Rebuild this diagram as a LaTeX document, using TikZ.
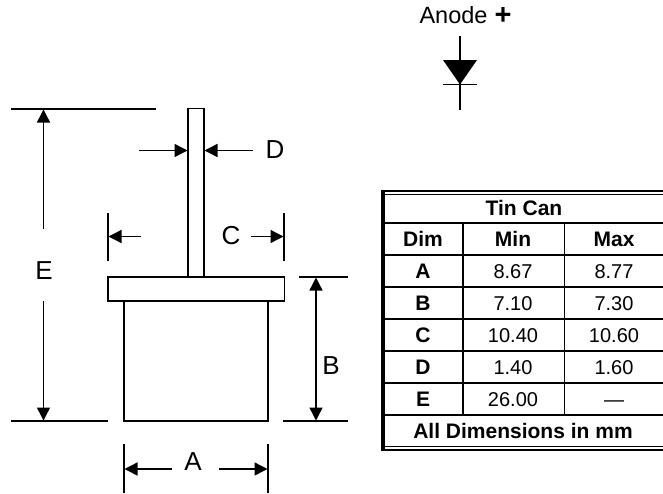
\documentclass[tikz,border=0pt]{standalone}
\usepackage{fontspec}
\setmainfont{Liberation Sans}
\usetikzlibrary{arrows.meta}

\begin{document}
\begin{tikzpicture}[x=1pt,y=-1pt,inner sep=0pt,every node/.style={font=\fontsize{20}{24}\selectfont}]
  % Styles
  \tikzset{part/.style={line width=1.4pt,fill=white},
           ext/.style={line width=1.4pt},
           dim/.style={line width=1.4pt,-{Triangle[length=13pt,width=13pt]}},
           dimboth/.style={line width=1.4pt,{Triangle[length=13pt,width=13pt]}-{Triangle[length=13pt,width=13pt]}},
           bigletter/.style={font=\fontsize{26}{30}\selectfont},
           cell/.style={anchor=base},
           head/.style={anchor=base,font=\fontsize{21}{24}\selectfont\bfseries},
           rule/.style={line width=1.5pt},
           outer/.style={line width=1.5pt}}
  \useasboundingbox (0,0) rectangle (663,493);

  % Outline of the can
  \draw[part] (124,301) rectangle (268,421);
  \draw[part] (108,277) rectangle (284.5,301);
  \draw[part] (188,108.5) rectangle (204,277);

  % Extension lines
  \draw[ext] (11,109) -- (156,109);
  \draw[ext] (11,421) -- (108,421);
  \draw[ext] (299,277) -- (348,277);
  \draw[ext] (283,421) -- (348,421);
  \draw[ext] (108,213) -- (108,261);
  \draw[ext] (284,213) -- (284,261);
  \draw[ext] (124,444) -- (124,493);
  \draw[ext] (268,444) -- (268,493);

  % Dimension E
  \node[bigletter] (lblE) at (44,271) {E};
  \draw[dim] (43.5,229) -- (43.5,109.5);
  \draw[dim] (43.5,301) -- (43.5,420.5);

  % Dimension D
  \node[bigletter] (lblD) at (275,150) {D};
  \draw[dim] (139,150.5) -- (187.5,150.5);
  \draw[dim] (253,150.5) -- (204.5,150.5);

  % Dimension C
  \node[bigletter] (lblC) at (231,236) {C};
  \draw[dim] (141,236.5) -- (108.5,236.5);
  \draw[dim] (251,236.5) -- (283.5,236.5);

  % Dimension B
  \node[bigletter] (lblB) at (331,366) {B};
  \draw[dimboth] (316,277.5) -- (316,420.5);

  % Dimension A
  \node[bigletter] (lblA) at (193,462) {A};
  \draw[dim] (172,469) -- (124.5,469);
  \draw[dim] (219,469) -- (267.5,469);

  % Diode symbol
  \node[font=\fontsize{23.5}{28}\selectfont] (anode) at (453.5,15) {Anode};
  \node[font=\fontsize{29}{32}\selectfont\bfseries] (plus) at (503,16) {+};
  \draw[ext] (460,36) -- (460,110);
  \draw[ext] (443,84.5) -- (477,84.5);
  \fill (443,60) -- (477,60) -- (460,84.5) -- cycle;

  % Table frame
  \draw[line width=4pt] (383,191) -- (383,450.7);
  \draw[outer] (381,191) -- (663,191);
  \draw[outer] (381,194.5) -- (663,194.5);
  \draw[outer] (381,446.5) -- (663,446.5);
  \draw[outer] (381,450) -- (663,450);

  % Table rules
  \draw[rule] (383,223) -- (663,223);
  \draw[rule] (383,255) -- (663,255);
  \draw[rule] (383,287) -- (663,287);
  \draw[rule] (383,319) -- (663,319);
  \draw[rule] (383,351) -- (663,351);
  \draw[rule] (383,383) -- (663,383);
  \draw[rule] (383,415) -- (663,415);
  \draw[rule] (463,223) -- (463,415);
  \draw[rule] (564.5,223) -- (564.5,415);

  % Table text
  \node[head] (title) at (524,215) {Tin Can};
  \node[head] (hdim) at (423,246.5) {Dim};
  \node[head] (hmin) at (513,246.5) {Min};
  \node[head] (hmax) at (614,246.5) {Max};
  \node[head] (rowA) at (423,278) {A};
  \node[cell] (minA) at (513,278) {8.67};
  \node[cell] (maxA) at (614,278) {8.77};
  \node[head] (rowB) at (423,310) {B};
  \node[cell] (minB) at (513,310) {7.10};
  \node[cell] (maxB) at (614,310) {7.30};
  \node[head] (rowC) at (423,342) {C};
  \node[cell] (minC) at (513,342) {10.40};
  \node[cell] (maxC) at (614,342) {10.60};
  \node[head] (rowD) at (423,374) {D};
  \node[cell] (minD) at (513,374) {1.40};
  \node[cell] (maxD) at (614,374) {1.60};
  \node[head] (rowE) at (423,406) {E};
  \node[cell] (minE) at (513,406) {26.00};
  \node[cell] (maxE) at (614,406) {---};
  \node[head] (note) at (523,438) {All Dimensions in mm};
\end{tikzpicture}
\end{document}
